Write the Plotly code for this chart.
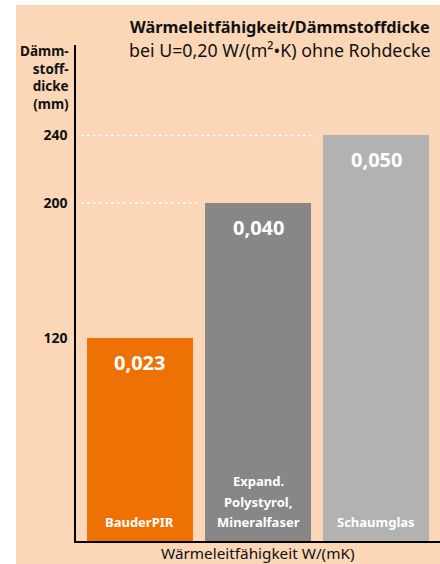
import plotly.graph_objects as go

categories = ["BauderPIR", "Expand.<br>Polystyrol,<br>Mineralfaser", "Schaumglas"]
thickness_mm = [120, 200, 240]
conductivity = ["0,023", "0,040", "0,050"]
colors = ["#EE7203", "#878787", "#B2B2B2"]
tick_vals = [120, 200, 240]

W, H = 440, 564
L, R, T, B = 76, 0, 45, 23
BW = 0.9
XR = [-0.542, 2.542]
YR = [0, 293.5]
FONT = "Noto Sans"
PH = H - T - B
PW = W - L - R

x = list(range(len(categories)))

fig = go.Figure()
fig.add_trace(go.Bar(x=x, y=thickness_mm, width=BW, marker=dict(color=colors, line=dict(width=0)),
                     hoverinfo="skip"))

shapes = []
shapes.append(dict(type="rect", xref="paper", yref="paper",
                   x0=(16 - L) / PW, x1=1.0,
                   y0=-B / PH, y1=(H - B - 5) / PH,
                   fillcolor="#FBD7B8", line=dict(width=0), layer="below"))
for i, v in enumerate(thickness_mm):
    shapes.append(dict(type="line", xref="x", yref="y", x0=XR[0] + 0.04, x1=i - BW / 2 - 0.06,
                       y0=v, y1=v, line=dict(color="rgba(255,255,255,0.9)", width=1.5, dash="dot"),
                       layer="below"))

annotations = []
for i, (v, t) in enumerate(zip(thickness_mm, conductivity)):
    annotations.append(dict(x=i, y=v, xref="x", yref="y", text="<b>" + t + "</b>", showarrow=False,
                            yanchor="middle", yshift=-24,
                            font=dict(family=FONT, size=20, color="white")))
for i, c in enumerate(categories):
    lines = c.split("<br>")
    for k, ln in enumerate(reversed(lines)):
        annotations.append(dict(x=i, y=0, xref="x", yref="y", text="<b>" + ln + "</b>", showarrow=False,
                                yanchor="middle", yshift=19 + 20.5 * k,
                                font=dict(family=FONT, size=13, color="white")))
annotations.append(dict(x=(432 - L) / PW, y=(H - B - 27) / PH, xref="paper", yref="paper",
                        text="<b>Wärmeleitfähigkeit/Dämmstoffdicke</b>", showarrow=False,
                        xanchor="right", yanchor="middle",
                        font=dict(family=FONT, size=16.3, color="#111111")))
annotations.append(dict(x=(432 - L) / PW, y=(H - B - 50) / PH, xref="paper", yref="paper",
                        text="bei U=0,20 W/(m²•K) ohne Rohdecke", showarrow=False,
                        xanchor="right", yanchor="middle",
                        font=dict(family=FONT, size=17.8, color="#111111")))
annotations.append(dict(x=(71 - L) / PW, y=(H - B - 40) / PH, xref="paper", yref="paper",
                        text="<b>Dämm-<br>stoff-<br>dicke<br>(mm)</b>", showarrow=False,
                        xanchor="right", yanchor="top", align="right",
                        font=dict(family=FONT, size=13.5, color="#111111")))
annotations.append(dict(x=0.5, y=-12 / PH, xref="paper", yref="paper",
                        text="Wärmeleitfähigkeit W/(mK)", showarrow=False,
                        xanchor="center", yanchor="middle",
                        font=dict(family=FONT, size=15.3, color="#111111")))

fig.update_layout(
    width=W, height=H, margin=dict(l=L, r=R, t=T, b=B, pad=0),
    paper_bgcolor="white", plot_bgcolor="rgba(0,0,0,0)",
    showlegend=False, bargap=0,
    shapes=shapes, annotations=annotations,
    xaxis=dict(range=XR, showgrid=False, zeroline=False, showticklabels=False, ticks="",
               showline=True, linecolor="black", linewidth=1.5, fixedrange=True),
    yaxis=dict(range=YR, showgrid=False, zeroline=False, tickvals=tick_vals,
               ticktext=["<b>%d</b>" % v for v in tick_vals], ticks="", ticklabelstandoff=4,
               tickfont=dict(family=FONT, size=14, color="#111111"),
               showline=True, linecolor="black", linewidth=1.5, fixedrange=True),
)

fig.write_html("out.html")
